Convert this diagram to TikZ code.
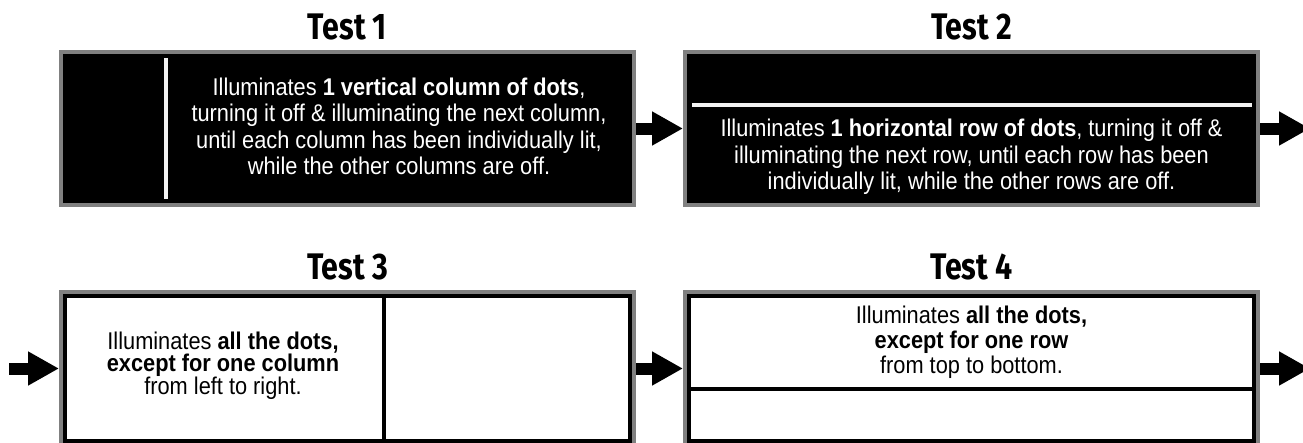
\documentclass[tikz,border=0pt]{standalone}
\usepackage{fontspec}
\setmainfont{Liberation Sans}[FakeStretch=0.9]
\newfontfamily\titlefont{Fira Sans}[FakeStretch=0.82]
\usetikzlibrary{positioning,arrows.meta}

\definecolor{framegray}{HTML}{808080}
\definecolor{dotwhite}{HTML}{F2F2F2}

\begin{document}
\begin{tikzpicture}[x=1pt, y=-1pt,
        panel/.style={rectangle, draw=framegray, line width=4pt, fill=black, minimum width=573pt, minimum height=153pt, inner sep=0pt, outer sep=2pt},
        blankpanel/.style={panel, fill=white},
        title/.style={font=\titlefont\bfseries\fontsize{37}{37}\selectfont, inner sep=0pt, anchor=base},
        caption/.style={align=center, inner sep=0pt},
        litline/.style={draw=dotwhite, line width=4pt},
        rule/.style={draw=black, line width=4pt},
        arrow/.style={line width=12pt, -{Triangle[length=31pt, width=32pt]}}]

        \useasboundingbox (0,0) rectangle (1303,442);

        \node[panel] (test1) at (347.5,128.5) {};
        \node[panel, right=47pt of test1] (test2) {};
        \node[blankpanel, below=83pt of test1] (test3) {};
        \node[blankpanel, right=47pt of test3] (test4) {};

        \node[title] (title1) at ([yshift=11pt]test1.north) {Test 1};
        \node[title] (title2) at ([yshift=11pt]test2.north) {Test 2};
        \node[title] (title3) at ([yshift=11pt]test3.north) {Test 3};
        \node[title] (title4) at ([yshift=11pt]test4.north) {Test 4};

        % lit column / lit row
        \draw[litline] ([xshift=107pt, yshift=-8pt]test1.north west) -- ([xshift=107pt, yshift=8pt]test1.south west);
        \draw[litline] ([xshift=9pt, yshift=-55pt]test2.north west) -- ([xshift=-8pt, yshift=-55pt]test2.north east);

        % inner frames and dark column / dark row
        \draw[rule] ([shift={(6pt,-6pt)}]test3.north west) rectangle ([shift={(-6pt,6pt)}]test3.south east);
        \draw[rule] ([shift={(6pt,-6pt)}]test4.north west) rectangle ([shift={(-6pt,6pt)}]test4.south east);
        \draw[rule] ([xshift=325pt, yshift=-6pt]test3.north west) -- ([xshift=325pt, yshift=6pt]test3.south west);
        \draw[rule] ([xshift=6pt, yshift=-99pt]test4.north west) -- ([xshift=-6pt, yshift=-99pt]test4.north east);

        \node[caption, text=white, font={\fontsize{24.2}{26.4}\selectfont\lineskiplimit=-20pt\relax}] (desc1) at ([xshift=51.5pt, yshift=2pt]test1.center)
            {Illuminates \textbf{1 vertical column of dots},\\ turning it off \& illuminating the next column,\\ until each column has been individually lit,\\ while the other columns are off.};
        \node[caption, text=white, font={\fontsize{24.2}{26.6}\selectfont\lineskiplimit=-20pt\relax}] (desc2) at ([yshift=-28.5pt]test2.center)
            {Illuminates \textbf{1 horizontal row of dots}, turning it off \&\\ illuminating the next row, until each row has been\\ individually lit, while the other rows are off.};
        \node[caption, font={\fontsize{24.2}{22.5}\selectfont\lineskiplimit=-20pt\relax}] (desc3) at ([xshift=-124.5pt, yshift=3pt]test3.center)
            {Illuminates \textbf{all the dots,}\\ \textbf{except for one column}\\ from left to right.};
        \node[caption, font={\fontsize{24.2}{25}\selectfont\lineskiplimit=-20pt\relax}] (desc4) at ([yshift=26.5pt]test4.center)
            {Illuminates \textbf{all the dots,}\\ \textbf{except for one row}\\ from top to bottom.};

        \coordinate[right=50pt of test2.east] (exit2);
        \coordinate[left=50pt of test3.west] (entry3);
        \coordinate[right=50pt of test4.east] (exit4);

        \draw[arrow] (test1.east) -- (test2.west);
        \draw[arrow] (test2.east) -- (exit2);
        \draw[arrow] (entry3) -- (test3.west);
        \draw[arrow] (test3.east) -- (test4.west);
        \draw[arrow] (test4.east) -- (exit4);
    \end{tikzpicture}
\end{document}
